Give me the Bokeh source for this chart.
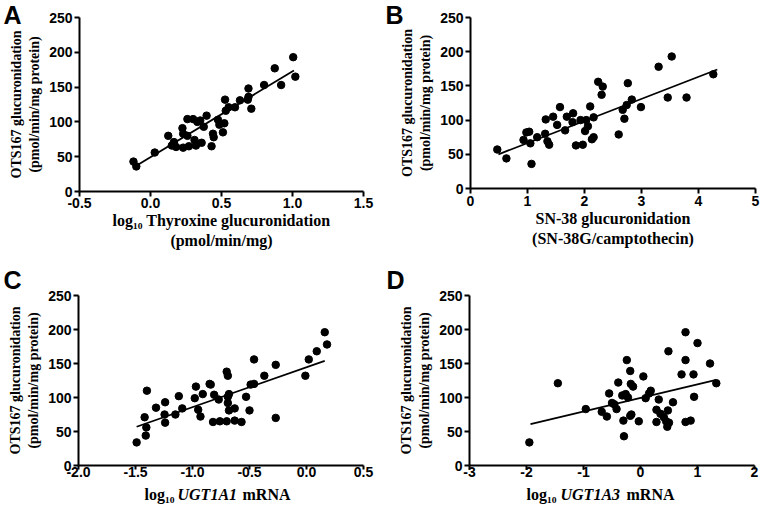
from bokeh.plotting import figure
from bokeh.models import Range1d, FixedTicker, Label, LinearAxis
from bokeh.layouts import gridplot
from bokeh.embed import file_html
from bokeh.resources import INLINE

# ---------------- data ----------------
y_ticks = [0, 50, 100, 150, 200, 250]
y_lim = (0, 250)
y_title = "OTS167 glucuronidation\n(pmol/min/mg protein)"

# Panel A
a_x = [-0.12, -0.10, 0.03, 0.125, 0.15, 0.165, 0.18, 0.225, 0.23, 0.23, 0.26, 0.26, 0.27,
       0.30, 0.31, 0.32, 0.33, 0.35, 0.36, 0.375, 0.395, 0.43, 0.44, 0.445, 0.475, 0.485,
       0.51, 0.52, 0.525, 0.53, 0.55, 0.595, 0.63, 0.69, 0.69, 0.685, 0.71, 0.80, 0.875,
       0.92, 1.005, 1.02]
a_y = [43, 36, 56, 80, 66, 71, 64, 91, 63, 83, 104, 80, 65,
       104, 74, 66, 100, 102, 70, 93, 109, 65, 83, 78, 103, 96,
       85, 98, 132, 116, 121, 121, 131, 148, 136, 132, 119, 153, 177,
       153, 193, 165]
a_fit_x = [-0.10, 1.01]
a_fit_y = [37, 174]
a_xlim = (-0.5, 1.5)
a_xticks = [-0.5, 0.0, 0.5, 1.0, 1.5]
a_xlabels = ["-0.5", "0.0", "0.5", "1.0", "1.5"]
a_xtitle = "log\u2081\u2080 Thyroxine glucuronidation\n(pmol/min/mg)"

# Panel B
b_x = [0.47, 0.63, 0.93, 0.98, 1.03, 1.05, 1.07, 1.17, 1.31, 1.32, 1.35, 1.38, 1.45, 1.52,
       1.57, 1.66, 1.69, 1.79, 1.80, 1.85, 1.93, 1.97, 2.01, 2.03, 2.06, 2.10, 2.13, 2.16,
       2.16, 2.24, 2.30, 2.32, 2.60, 2.67, 2.70, 2.74, 2.76, 2.83, 2.99, 3.30, 3.46, 3.53,
       3.79, 4.26]
b_y = [57, 44, 71, 82, 83, 66, 36, 75, 80, 101, 69, 64, 105, 93,
       119, 85, 105, 97, 110, 63, 100, 64, 84, 100, 91, 120, 72, 75,
       104, 156, 137, 149, 79, 115, 102, 122, 154, 130, 119, 178, 133, 193,
       133, 167]
b_fit_x = [0.49, 4.33]
b_fit_y = [50, 174]
b_xlim = (0, 5)
b_xticks = [0, 1, 2, 3, 4, 5]
b_xlabels = ["0", "1", "2", "3", "4", "5"]
b_xtitle = "SN-38 glucuronidation\n(SN-38G/camptothecin)"

# Panel C
c_x = [-1.49, -1.42, -1.40, -1.405, -1.41, -1.32, -1.245, -1.24, -1.24, -1.15, -1.12, -1.09,
       -0.98, -0.97, -0.95, -0.93, -0.91, -0.85, -0.84, -0.82, -0.81, -0.77, -0.76, -0.70,
       -0.70, -0.69, -0.69, -0.69, -0.68, -0.68, -0.63, -0.63, -0.57, -0.53, -0.50, -0.49,
       -0.46, -0.46, -0.37, -0.27, -0.27, -0.01, 0.02, 0.09, 0.16, 0.18]
c_y = [34, 71, 110, 56, 44, 85, 75, 93, 63, 75, 102, 84,
       99, 116, 82, 72, 105, 120, 119, 64, 104, 97, 65, 65,
       138, 132, 92, 101, 105, 81, 66, 84, 64, 101, 81, 119,
       120, 156, 132, 148, 70, 132, 156, 168, 196, 178]
c_fit_x = [-1.49, 0.16]
c_fit_y = [57, 154]
c_xlim = (-2.0, 0.5)
c_xticks = [-2.0, -1.5, -1.0, -0.5, 0.0, 0.5]
c_xlabels = ["-2.0", "-1.5", "-1.0", "-0.5", "0.0", "0.5"]
c_xtitle_parts = ["log\u2081\u2080", "UGT1A1", "mRNA"]

# Panel D
d_x = [-1.95, -1.45, -0.96, -0.68, -0.59, -0.55, -0.50, -0.46, -0.42, -0.39, -0.32, -0.30,
       -0.29, -0.26, -0.24, -0.22, -0.18, -0.17, -0.18, -0.16, -0.13, -0.03, 0.05, 0.09,
       0.15, 0.18, 0.32, 0.28, 0.28, 0.35, 0.41, 0.45, 0.47, 0.48, 0.49, 0.50, 0.57, 0.72,
       0.79, 0.79, 0.79, 0.88, 0.94, 0.93, 1.00, 1.22, 1.33]
d_y = [34, 121, 83, 79, 72, 106, 92, 90, 83, 122, 103, 66,
       43, 105, 155, 100, 139, 120, 73, 75, 116, 65, 131, 99,
       106, 110, 97, 82, 64, 76, 71, 65, 57, 81, 168, 63, 93, 134,
       196, 155, 64, 66, 101, 134, 180, 150, 121]
d_fit_x = [-1.93, 1.33]
d_fit_y = [61, 126]
d_xlim = (-3, 2)
d_xticks = [-3, -2, -1, 0, 1, 2]
d_xlabels = ["-3", "-2", "-1", "0", "1", "2"]
d_xtitle_parts = ["log\u2081\u2080", "UGT1A3", "mRNA"]

TICK_FONT = "Liberation Sans"
TITLE_FONT = "Liberation Serif"


def panel(W, H, box, xlim, xticks, xlabels, xs, ys, fx, fy, xtitle, letter, letter_pos,
          x_tick_out, x_label_standoff):
    # box = pixel position of the axes inside this figure: left, right, top, bottom
    left, right, top, bottom = box
    sx = (right - left) / (xlim[1] - xlim[0])
    sy = (bottom - top) / (y_lim[1] - y_lim[0])
    xr = Range1d(xlim[0] - left / sx, xlim[1] + (W - right) / sx)
    yr = Range1d(y_lim[0] - (H - bottom) / sy, y_lim[1] + top / sy)
    p = figure(width=W, height=H, x_range=xr, y_range=yr,
               x_axis_location=None, y_axis_location=None,
               output_backend="svg", toolbar_location=None, min_border=0)
    p.outline_line_color = None
    p.grid.visible = False
    p.background_fill_color = "white"
    p.border_fill_color = "white"

    p.scatter(xs, ys, size=7.5, color="black")
    p.line(fx, fy, line_width=1.8, color="black")

    xa = LinearAxis(fixed_location=y_lim[0], bounds=xlim,
                    ticker=FixedTicker(ticks=xticks),
                    major_label_overrides={t: l for t, l in zip(xticks, xlabels)})
    ya = LinearAxis(fixed_location=xlim[0], bounds=y_lim,
                    ticker=FixedTicker(ticks=y_ticks))
    for ax in (xa, ya):
        ax.axis_line_width = 2
        ax.axis_line_color = "black"
        ax.major_tick_line_width = 2
        ax.major_tick_line_color = "black"
        ax.major_tick_in = 0
        ax.minor_tick_line_color = None
        ax.major_label_text_font = TICK_FONT
        ax.major_label_text_font_style = "bold"
        ax.major_label_text_font_size = "14px"
        ax.major_label_text_color = "black"
        ax.axis_label_text_font = TITLE_FONT
        ax.axis_label_text_font_style = "bold"
        ax.axis_label_text_color = "black"
    ya.major_tick_out = 5
    ya.major_label_standoff = 2
    ya.axis_label = y_title
    ya.axis_label_text_font_size = "14px"
    ya.axis_label_standoff = 4
    xa.major_tick_out = x_tick_out
    xa.major_label_standoff = x_label_standoff
    if xtitle is not None:
        xa.axis_label = xtitle
        xa.axis_label_text_font_size = "16px"
        xa.axis_label_standoff = 1
    p.add_layout(xa, "below")
    p.add_layout(ya, "left")

    p.add_layout(Label(x=letter_pos[0], y=H - letter_pos[1], x_units="screen", y_units="screen",
                       text=letter, text_font=TICK_FONT,
                       text_font_style="bold", text_font_size="25px",
                       text_baseline="alphabetic", text_align="left", text_color="black"))
    return p


def mixed_title(p, H, parts, xs, baseline_y):
    styles = ["bold", "bold italic", "bold"]
    for txt, x, style in zip(parts, xs, styles):
        p.add_layout(Label(x=x, y=H - baseline_y, x_units="screen", y_units="screen", text=txt,
                           text_font=TITLE_FONT, text_font_style=style,
                           text_font_size="16px", text_baseline="alphabetic",
                           text_align="left", text_color="black"))


W, H = 383, 253
pa = panel(W, H, (79, 363, 17, 191), a_xlim, a_xticks, a_xlabels, a_x, a_y,
           a_fit_x, a_fit_y, a_xtitle, "A", (3, 14), 5, 1)
pb = panel(W, H, (87, 372, 17, 188), b_xlim, b_xticks, b_xlabels, b_x, b_y,
           b_fit_x, b_fit_y, b_xtitle, "B", (2, 14), 5, 2)
pc = panel(W, H, (78, 363, 42, 212), c_xlim, c_xticks, c_xlabels, c_x, c_y,
           c_fit_x, c_fit_y, None, "C", (3, 26), 4, -3)
pd_ = panel(W, H, (86, 371, 42, 212), d_xlim, d_xticks, d_xlabels, d_x, d_y,
            d_fit_x, d_fit_y, None, "D", (3, 26), 4, -3)

mixed_title(pc, H, c_xtitle_parts, (144, 177, 242), 241)
mixed_title(pd_, H, d_xtitle_parts, (143, 177, 243), 241)

grid = gridplot([[pa, pb], [pc, pd_]], toolbar_location=None)

open("out.html", "w").write(file_html(grid, INLINE))
